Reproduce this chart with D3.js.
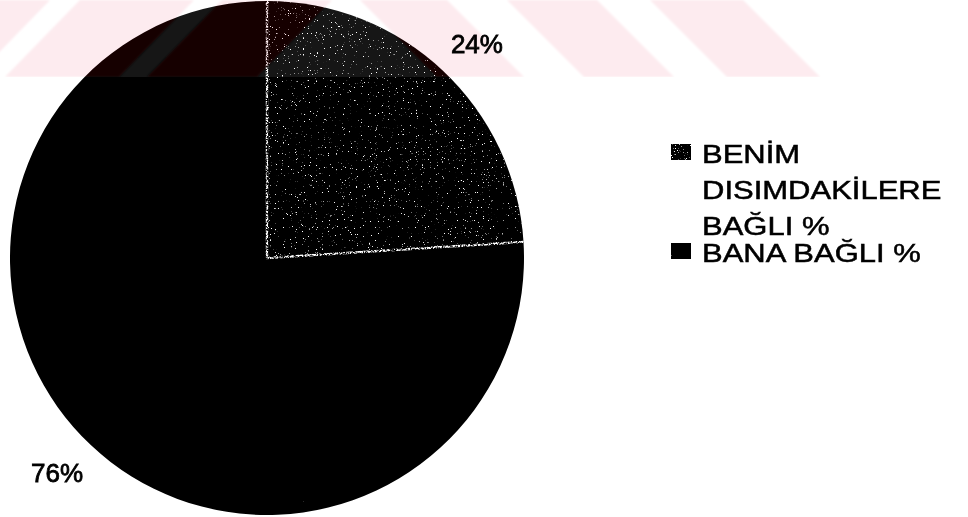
<!DOCTYPE html>
<html>
<head>
<meta charset="utf-8">
<script src="https://cdn.jsdelivr.net/npm/d3@7"></script>
<style>
  html, body { margin: 0; padding: 0; background: #fff; }
  svg { display: block; }
  text { font-family: "Liberation Sans", Arial, Helvetica, sans-serif; fill: #000; stroke: #000; stroke-width: 0.8px; }
</style>
</head>
<body>
<svg id="chart" width="968" height="517"></svg>
<script>
// ---- data ----
const categories = ["BENİM DISIMDAKİLERE BAĞLI %", "BANA BAĞLI %"];
const legendLines = [["BENİM", "DISIMDAKİLERE", "BAĞLI %"], ["BANA BAĞLI %"]];
const values = [24, 76];
const valueLabels = ["24%", "76%"];

// ---- layout ----
const W = 968, H = 517;
const cx = 267, cy = 258, R = 257;
const svg = d3.select("#chart");
const defs = svg.append("defs");

// speckle textures (scanned-print look of the pattern fills)
function speckFilter(id, gain, offset, freq, seed, octaves) {
  const f = defs.append("filter").attr("id", id)
    .attr("filterUnits", "userSpaceOnUse")
    .attr("x", -R - 5).attr("y", -R - 5).attr("width", 2 * R + 10).attr("height", 2 * R + 10)
    .attr("color-interpolation-filters", "sRGB");
  f.append("feTurbulence").attr("type", "fractalNoise").attr("baseFrequency", freq)
    .attr("numOctaves", octaves).attr("seed", seed).attr("result", "n");
  f.append("feColorMatrix").attr("in", "n").attr("type", "matrix")
    .attr("values", `0 0 0 0 1  0 0 0 0 1  0 0 0 0 1  ${gain} 0 0 0 ${offset}`).attr("result", "dots");
  f.append("feComposite").attr("in", "dots").attr("in2", "SourceGraphic").attr("operator", "in");
}
speckFilter("speckDense", 13, -9.1, 0.85, 4, 2);
speckFilter("speckSparse", 30, -27.6, 0.9, 9, 2);
speckFilter("edgeNoise", 6, -2.4, 0.6, 2, 2);

// legend swatch textures use bounding-box units
function swatchFilter(id, gain, offset, seed) {
  const f = defs.append("filter").attr("id", id)
    .attr("x", 0).attr("y", 0).attr("width", 1).attr("height", 1)
    .attr("color-interpolation-filters", "sRGB");
  f.append("feTurbulence").attr("type", "fractalNoise").attr("baseFrequency", 0.7)
    .attr("numOctaves", 2).attr("seed", seed).attr("result", "n");
  f.append("feColorMatrix").attr("in", "n").attr("type", "matrix")
    .attr("values", `0 0 0 0 1  0 0 0 0 1  0 0 0 0 1  ${gain} 0 0 0 ${offset}`).attr("result", "dots");
  f.append("feComposite").attr("in", "dots").attr("in2", "SourceGraphic").attr("operator", "in");
}
swatchFilter("swDense", 10, -6.4, 5);
swatchFilter("swSparse", 20, -16, 7);

// ---- pie ----
const pie = d3.pie().sort(null).value(d => d)(values);
const arc = d3.arc().innerRadius(0).outerRadius(R);
const labelR = 300, labelTurn = 0.021;   // labels sit just outside the rim, nudged clockwise
const labelPos = d => {
  const a = (d.startAngle + d.endAngle) / 2 + labelTurn;
  return [labelR * Math.sin(a), -labelR * Math.cos(a)];
};

const g = svg.append("g").attr("transform", `translate(${cx},${cy})`);
g.selectAll("path.slice").data(pie).join("path")
  .attr("class", "slice").attr("d", arc).attr("fill", "#000");
g.selectAll("path.tex").data(pie).join("path")
  .attr("class", "tex").attr("d", arc).attr("fill", "#000")
  .attr("filter", (d, i) => i === 0 ? "url(#speckDense)" : "url(#speckSparse)");

// light, broken edge along the two radii of the first slice
const pt = a => [R * Math.sin(a), -R * Math.cos(a)];
g.append("path")
  .attr("d", d3.line()([pt(pie[0].startAngle), [0, 0], pt(pie[0].endAngle)]))
  .attr("fill", "none").attr("stroke", "#fff").attr("stroke-width", 2.4)
  .attr("filter", "url(#edgeNoise)");

// ---- legend ----
const legX = 671, legTextX = 702, legBase = [163, 262], lineH = 36;
const leg = svg.append("g");
legendLines.forEach((lines, i) => {
  leg.append("rect").attr("x", legX).attr("y", legBase[i] - 19)
    .attr("width", 20).attr("height", 16).attr("fill", "#000");
  leg.append("rect").attr("x", legX).attr("y", legBase[i] - 19)
    .attr("width", 20).attr("height", 16).attr("fill", "#000")
    .attr("filter", i === 0 ? "url(#swDense)" : "url(#swSparse)");
  const t = leg.append("g").attr("transform", `translate(${legTextX},0) scale(1.24,1)`);
  lines.forEach((ln, j) => {
    t.append("text").attr("x", 0).attr("y", legBase[i] + j * lineH)
      .style("font-size", "25px").style("stroke-width", "0.5px").text(ln);
  });
});

// ---- pink striped band along the top edge ----
const bandH = 77;
const slashTops = [[-220, 50], [80, 194], [222, 332]];   // "/" stripes
const backTops = [[360, 447], [507, 597], [650, 743]];    // "\" stripes
const slashShift = -75, backShift = 77;
const stripePolys = [
  ...slashTops.map(([a, b]) => [[a, 0], [b, 0], [b + slashShift, bandH], [a + slashShift, bandH]]),
  ...backTops.map(([a, b]) => [[a, 0], [b, 0], [b + backShift, bandH], [a + backShift, bandH]])
];
defs.append("clipPath").attr("id", "bandClip")
  .append("rect").attr("x", 0).attr("y", 0).attr("width", W).attr("height", bandH);
defs.append("filter").attr("id", "soft").attr("x", -0.1).attr("y", -0.1).attr("width", 1.2).attr("height", 1.2)
  .append("feGaussianBlur").attr("stdDeviation", 1.3);

// the band lifts the black ink a little (screen), then tints it pink (multiply)
const lift = svg.append("g").attr("clip-path", "url(#bandClip)").style("mix-blend-mode", "screen");
lift.append("rect").attr("x", 0).attr("y", 0).attr("width", W).attr("height", bandH).attr("fill", "#161616");
lift.append("g").attr("filter", "url(#soft)").selectAll("polygon").data(stripePolys).join("polygon")
  .attr("points", d => d.join(" ")).attr("fill", "#140005");
const tint = svg.append("g").attr("clip-path", "url(#bandClip)").style("mix-blend-mode", "multiply");
tint.append("g").attr("filter", "url(#soft)")
  .selectAll("polygon").data(stripePolys).join("polygon")
  .attr("points", d => d.join(" ")).attr("fill", "#fdebef");

// value labels, drawn last so they sit above the band
const labels = svg.append("g").attr("transform", `translate(${cx},${cy})`);
labels.selectAll("text.val").data(pie).join("text")
  .attr("class", "val")
  .attr("transform", d => `translate(${labelPos(d)})`)
  .attr("text-anchor", "middle").attr("dy", "0.36em")
  .style("font-size", "26px")
  .text((d, i) => valueLabels[i]);
</script>
</body>
</html>
